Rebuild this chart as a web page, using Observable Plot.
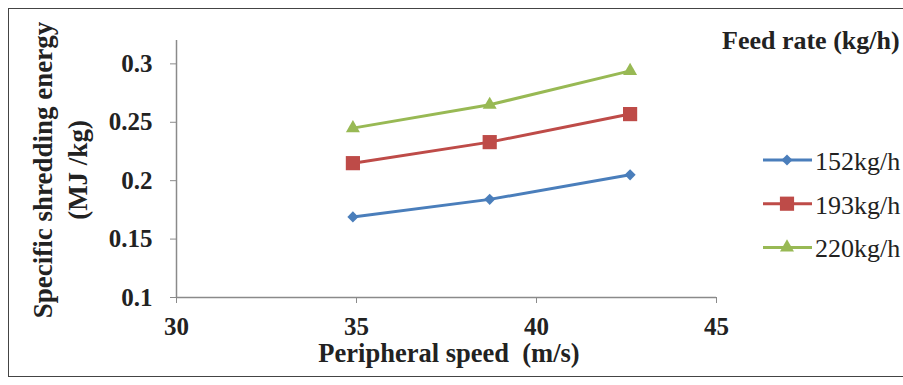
<!DOCTYPE html>
<html>
<head>
<meta charset="utf-8">
<script src="https://cdn.jsdelivr.net/npm/d3@7"></script>
<script src="https://cdn.jsdelivr.net/npm/@observablehq/plot@0.6"></script>
</head>
<body style="margin:0">
<div id="wrap" style="position:relative;width:903px;height:385px">
<div style="position:absolute;left:8px;top:8px;width:895px;height:369px;border:1.5px solid #444;border-right:none;box-sizing:border-box"></div>
<div id="chart" style="position:absolute;left:0;top:0"></div>
<svg id="legend" width="903" height="385" style="position:absolute;left:0;top:0"></svg>
</div>
<script>
const speeds = [34.9, 38.7, 42.6];
const rate152 = [0.169, 0.184, 0.205];
const rate193 = [0.215, 0.233, 0.257];
const rate220 = [0.245, 0.265, 0.294];
const seriesNames = ["152kg/h", "193kg/h", "220kg/h"];
const seriesColors = ["#4a7ebb", "#be4b48", "#98b954"];
const seriesSymbols = ["diamond2", "square", "triangle"];
const seriesSizes = [5, 8, 5.2];
const xTicks = [30, 35, 40, 45];
const yTicks = [0.1, 0.15, 0.2, 0.25, 0.3];
const xTitle = "Peripheral speed  (m/s)";
const yTitle = ["Specific shredding energy", "(MJ /kg)"];
const legendTitle = "Feed rate (kg/h)";

const values = [rate152, rate193, rate220];
const data = [];
seriesNames.forEach((s, i) => speeds.forEach((x, j) => data.push({series: s, x, y: values[i][j], r: seriesSizes[i]})));

const FONT = "'Liberation Serif', 'Times New Roman', serif";
const axisColor = "#8a8a8a";
const plot = Plot.plot({
  width: 903, height: 385,
  marginLeft: 176, marginRight: 187, marginTop: 40, marginBottom: 88,
  style: {fontFamily: FONT, fontWeight: "bold", fontSize: "25px", color: "#222", background: "transparent"},
  x: {domain: [30, 45], label: null},
  y: {domain: [0.1, 0.32], label: null},
  color: {domain: seriesNames, range: seriesColors},
  symbol: {domain: seriesNames, range: seriesSymbols},
  r: {type: "identity"},
  marks: [
    Plot.ruleX([30], {y1: 0.1, y2: 0.32, stroke: axisColor, strokeWidth: 1.5}),
    Plot.ruleY([0.1], {x1: 30, x2: 45, stroke: axisColor, strokeWidth: 1.5}),
    Plot.axisY({ticks: yTicks, tickFormat: d => String(d), tickSize: 6, tickPadding: 18, stroke: axisColor, label: null}),
    Plot.axisX({ticks: xTicks, tickFormat: d => String(d), tickSize: 6, tickPadding: 14, stroke: axisColor, label: null}),
    Plot.line(data, {x: "x", y: "y", z: "series", stroke: "series", strokeWidth: 3}),
    Plot.dot(data, {x: "x", y: "y", symbol: "series", fill: "series", r: "r", stroke: null})
  ]
});
document.getElementById("chart").appendChild(plot);

const svg = d3.select(plot);
svg.append("text").attr("x", 449).attr("y", 362).attr("text-anchor", "middle")
  .style("font-family", FONT).attr("font-weight", "bold").attr("font-size", 26.5).attr("fill", "#222")
  .text(xTitle);
[51.5, 87].forEach((bx, i) => {
  svg.append("text").attr("transform", `translate(${bx},170) rotate(-90)`).attr("text-anchor", "middle")
    .style("font-family", FONT).attr("font-weight", "bold").attr("font-size", 27).attr("fill", "#222")
    .text(yTitle[i]);
});

const lg = d3.select("#legend");
lg.append("text").attr("x", 722).attr("y", 49).attr("font-weight", "bold").attr("font-size", 26).attr("fill", "#222")
  .style("font-family", FONT).text(legendTitle);
const sym = {diamond2: d3.symbolDiamond2, square: d3.symbolSquare, triangle: d3.symbolTriangle};
seriesNames.forEach((s, i) => {
  const cy = 160 + i * 43.7;
  lg.append("line").attr("x1", 763).attr("x2", 812).attr("y1", cy).attr("y2", cy).attr("stroke", seriesColors[i]).attr("stroke-width", 3);
  lg.append("path").attr("transform", `translate(787,${cy})`).attr("fill", seriesColors[i])
    .attr("d", d3.symbol(sym[seriesSymbols[i]], Math.PI * seriesSizes[i] * seriesSizes[i])());
  lg.append("text").attr("x", 815).attr("y", cy + 10).attr("font-size", 26).attr("fill", "#222")
    .style("font-family", FONT).text(s);
});
</script>
</body>
</html>
